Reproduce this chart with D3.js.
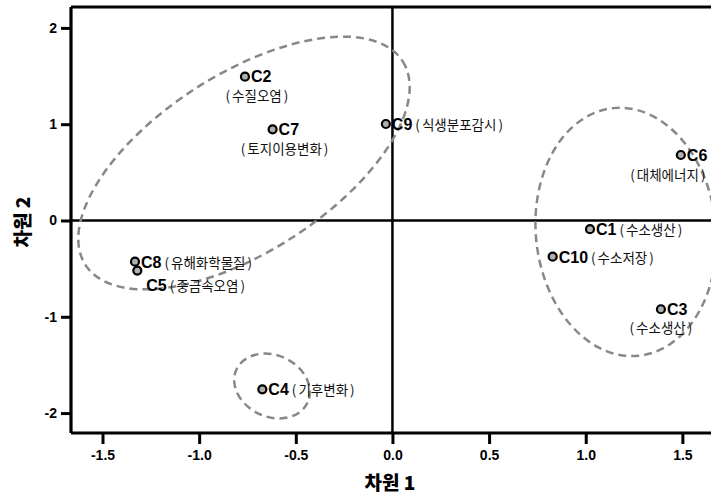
<!DOCTYPE html>
<html><head><meta charset="utf-8">
<script src="https://cdn.jsdelivr.net/npm/d3@7"></script>
<style>body{margin:0;background:#fff}svg{display:block}</style>
</head><body><svg id="c" width="711" height="497"></svg>
<script>
// ---- data ----
const codes = ["C1","C2","C3","C4","C5","C6","C7","C8","C9","C10"];
const names = ["수소생산","수질오염","수소생산","기후변화","중금속오염","대체에너지","토지이용변화","유해화학물질","식생분포감시","수소저장"];
const dim1  = [1.022,-0.763,1.389,-0.673,-1.320,1.492,-0.620,-1.332,-0.034,0.829];
const dim2  = [-0.090,1.493,-0.922,-1.753,-0.520,0.680,0.947,-0.428,1.002,-0.376];
const xTicks = [-1.5,-1.0,-0.5,0.0,0.5,1.0,1.5];
const yTicks = [-2,-1,0,1,2];
// cluster ellipses: centre (dim1, dim2), semi-axes in dim1 units, tilt in degrees
const ellCx = [-0.768, 1.208, -0.623];
const ellCy = [0.597, -0.119, -1.719];
const ellA  = [0.975, 0.466, 0.203];
const ellB  = [0.460, 0.644, 0.159];
const ellRot= [-32.7, -5.9, 25];

// label layout (mode: inline / below / under)
const labelMode = {C1:"inline",C2:"below",C3:"below",C4:"inline",C5:"under",C6:"below",C7:"below",C8:"inline",C9:"inline",C10:"inline"};
const belowDx = {C2:12,C7:12,C6:-13,C3:0};
const belowDy = {C2:24.5,C7:25,C6:24.5,C3:24};

const svg = d3.select("#c");
const x = d3.scaleLinear().domain([-1.663, 1.75]).range([71, 730.7]);
const y = d3.scaleLinear().domain([-2.207, 2.217]).range([433, 7]);
const kx = x(1) - x(0);

const latin = "'Liberation Sans', Arial, sans-serif";
const kor = "'Noto Sans CJK KR', sans-serif";

// zero lines
svg.append("line").attr("x1", x(0)).attr("x2", x(0)).attr("y1", y.range()[1]).attr("y2", y.range()[0])
  .attr("stroke", "#000").attr("stroke-width", 2.5);
svg.append("line").attr("x1", x.range()[0]).attr("x2", 711).attr("y1", y(0)).attr("y2", y(0))
  .attr("stroke", "#000").attr("stroke-width", 2.5);

// frame top
svg.append("line").attr("x1", x.range()[0]).attr("x2", 711).attr("y1", 7).attr("y2", 7)
  .attr("stroke", "#000").attr("stroke-width", 3);

// ellipses
svg.append("g").selectAll("ellipse").data(ellCx).join("ellipse")
  .attr("transform", (d,i) => `translate(${x(ellCx[i])},${y(ellCy[i])}) rotate(${ellRot[i]})`)
  .attr("rx", (d,i) => ellA[i]*kx).attr("ry", (d,i) => ellB[i]*kx)
  .attr("fill", "none").attr("stroke", "#888").attr("stroke-width", 2.5)
  .attr("stroke-dasharray", "8,5");

// axes
const xAxis = svg.append("g").attr("transform", "translate(0,433)")
  .call(d3.axisBottom(x).tickValues(xTicks).tickFormat(d3.format(".1f")).tickSize(11).tickPadding(6));
const yAxis = svg.append("g").attr("transform", "translate(71,0)")
  .call(d3.axisLeft(y).tickValues(yTicks).tickFormat(d3.format("d")).tickSize(10).tickPadding(4));
[xAxis, yAxis].forEach(g => {
  g.select(".domain").attr("stroke-width", 3.2);
  g.selectAll(".tick line").attr("stroke-width", 3);
  g.selectAll(".tick text").attr("font-family", latin).attr("font-size", 14).attr("font-weight", "bold").attr("fill", "#000")
    .text(function(){ return this.textContent.replace("\u2212", "-"); });
});
xAxis.select(".domain").attr("d", `M71,0H711`);
yAxis.select(".domain").attr("d", `M0,7V433`);

// axis titles
svg.append("text").attr("x", 390).attr("y", 490).attr("text-anchor", "middle")
  .attr("font-family", kor).attr("font-weight", "900").attr("font-size", 19).text("차원 1");
svg.append("text").attr("transform", "translate(30,222) rotate(-90)").attr("text-anchor", "middle")
  .attr("font-family", kor).attr("font-weight", "900").attr("font-size", 19).text("차원 2");

// points
const idx = d3.range(codes.length);
svg.append("g").selectAll("circle").data(idx).join("circle")
  .attr("cx", i => x(dim1[i])).attr("cy", i => y(dim2[i])).attr("r", 4)
  .attr("fill", "#b0b0b0").attr("stroke", "#000").attr("stroke-width", 2.2);

// labels
const lg = svg.append("g");
function nameText(tx, tyy, anchor, nm) {
  const t = lg.append("text").attr("x", tx).attr("y", tyy).attr("text-anchor", anchor)
    .attr("font-family", kor).attr("font-size", 13.5).attr("fill", "#111");
  t.append("tspan").text("(");
  t.append("tspan").attr("dx", 2).text(nm);
  t.append("tspan").attr("dx", 2).text(")");
  return t;
}
idx.forEach(i => {
  const c = codes[i], px = x(dim1[i]), py = y(dim2[i]), mode = labelMode[c];
  let cx = px + 6, cy = py + 6;
  if (mode === "under") { cx = px + 9; cy = py + 20; }
  if (mode === "below") { cy = py + 5.5; }
  const t = lg.append("text").attr("x", cx).attr("y", cy)
    .attr("font-family", latin).attr("font-size", 16).attr("font-weight", "bold").text(c);
  const w = t.node().getComputedTextLength();
  if (mode === "below") {
    nameText(px + belowDx[c], py + belowDy[c], "middle", names[i]);
  } else {
    nameText(cx + w + 3, cy, "start", names[i]);
  }
});
</script></body></html>
